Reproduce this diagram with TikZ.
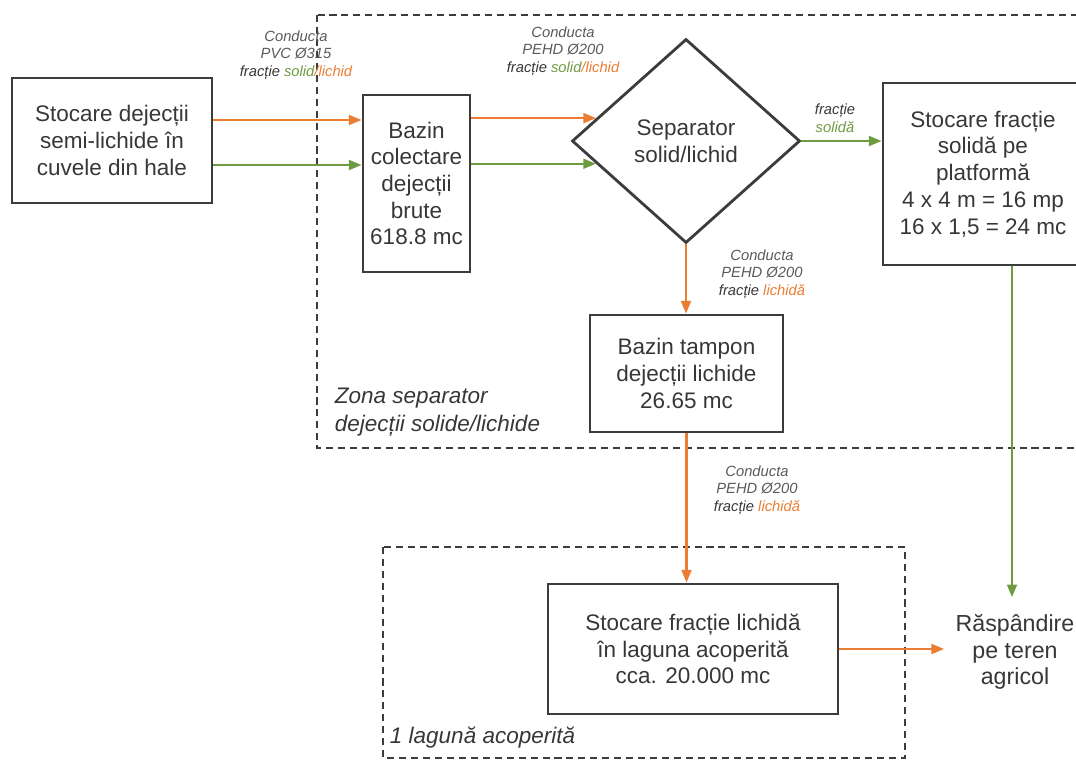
\documentclass[tikz,border=0pt]{standalone}
\usepackage{fontspec}
\setmainfont{Liberation Sans}
\usetikzlibrary{shapes.geometric,arrows.meta,calc}

\definecolor{linegray}{RGB}{60,60,60}
\definecolor{textgray}{RGB}{55,55,55}
\definecolor{labelgray}{RGB}{90,90,90}
\definecolor{pipeorange}{RGB}{235,125,50}
\definecolor{pipegreen}{RGB}{110,155,65}

\tikzset{
  box/.style={rectangle, draw=linegray, line width=2pt, align=center, text=textgray,
    font=\fontsize{16}{19}\selectfont, inner sep=2pt},
  pipe/.style={line width=1.6pt, -{Triangle[length=9pt,width=7pt]}},
  orangepipe/.style={pipe, draw=pipeorange},
  greenpipe/.style={pipe, draw=pipegreen},
  pipelabel/.style={align=center, text=labelgray, font=\fontsize{10.5}{12.5}\selectfont\itshape},
  zone/.style={draw=linegray, line width=1.5pt, dash pattern=on 5pt off 3.5pt},
  zonelabel/.style={anchor=west, align=left, text=textgray, font=\fontsize{16}{20}\selectfont\itshape}
}

\begin{document}
\begin{tikzpicture}[x=0.025cm, y=-0.025cm]
        \useasboundingbox (0,0) rectangle (1076,762);
        \clip (0,0) rectangle (1076,762);

        % zones
        \draw[zone] (317,15) rectangle (1095,448);
        \draw[zone] (383,547) rectangle (905,758);
        \node[zonelabel] (zona-sep) at (330,412) {Zona separator\\dejecții solide/lichide};
        \node[zonelabel] (zona-lag) at (385,738) {1 lagună acoperită};

        % boxes
        \node[box, minimum width=5cm, minimum height=3.125cm] (stocare) at (112,140.5) {Stocare dejecții\\semi-lichide în\\cuvele din hale};
        \node[box, minimum width=2.675cm, minimum height=4.425cm] (bazin) at (416.5,183.5) {Bazin\\colectare\\dejecții\\brute\\618.8 mc};
        \node[box, shape=diamond, inner sep=0pt, minimum width=5.7cm, minimum height=5.1cm] (separator) at (686,141) {Separator\\solid/lichid};
        \node[box, minimum width=5cm, minimum height=4.55cm] (platforma) at (983,174) {Stocare fracție\\solidă pe\\platformă\\4 x 4 m = 16 mp\\16 x 1,5 = 24 mc};
        \node[box, minimum width=4.825cm, minimum height=2.925cm] (tampon) at (686.5,373.5) {Bazin tampon\\dejecții lichide\\26.65 mc};
        \node[box, minimum width=7.25cm, minimum height=3.25cm] (laguna) at (693,649) {Stocare fracție lichidă\\în laguna acoperită\\cca. 20.000 mc};
        \node[align=center, text=textgray, font=\fontsize{16.5}{19}\selectfont, inner xsep=8pt, inner ysep=12pt] (raspandire) at (1015,652) {Răspândire\\pe teren\\agricol};

        % pipe labels
        \node[pipelabel] (pvc-label) at (296,55) {Conducta\\PVC Ø315\\{\color{textgray}fracție} {\color{pipegreen}solid}{\color{pipeorange}/lichid}};
        \node[pipelabel] (pehd-label-1) at (563,51) {Conducta\\PEHD Ø200\\{\color{textgray}fracție} {\color{pipegreen}solid}{\color{pipeorange}/lichid}};
        \node[pipelabel] (solid-label) at (835,118) {{\color{textgray}fracție}\\{\color{pipegreen}solidă}};
        \node[pipelabel] (pehd-label-2) at (762,274) {Conducta\\PEHD Ø200\\{\color{textgray}fracție} {\color{pipeorange}lichidă}};
        \node[pipelabel] (pehd-label-3) at (757,490) {Conducta\\PEHD Ø200\\{\color{textgray}fracție} {\color{pipeorange}lichidă}};

        % pipes
        \coordinate (yorange) at (0,120);
        \coordinate (ygreen) at (0,165);
        \coordinate (xspread) at (1012,0);
        \draw[orangepipe] (stocare.east |- yorange) -- (bazin.west |- yorange);
        \draw[greenpipe] (stocare.east |- ygreen) -- (bazin.west |- ygreen);

        \coordinate (sep-in-o) at ($(separator.west)!0.221!(separator.north)$);
        \coordinate (sep-in-g) at ($(separator.west)!0.22!(separator.south)$);
        \draw[orangepipe] (bazin.east |- sep-in-o) -- (sep-in-o);
        \draw[greenpipe] (bazin.east |- sep-in-g) -- (sep-in-g);

        \draw[greenpipe] (separator.east) -- (separator.east -| platforma.west);
        \draw[orangepipe] (separator.south) -- (separator.south |- tampon.north);
        \draw[orangepipe] (tampon.south) -- (tampon.south |- laguna.north);
        \draw[greenpipe] (platforma.south -| xspread) -- (xspread |- raspandire.north);
        \draw[orangepipe] (laguna.east) -- (laguna.east -| raspandire.west);

      \end{tikzpicture}
\end{document}
